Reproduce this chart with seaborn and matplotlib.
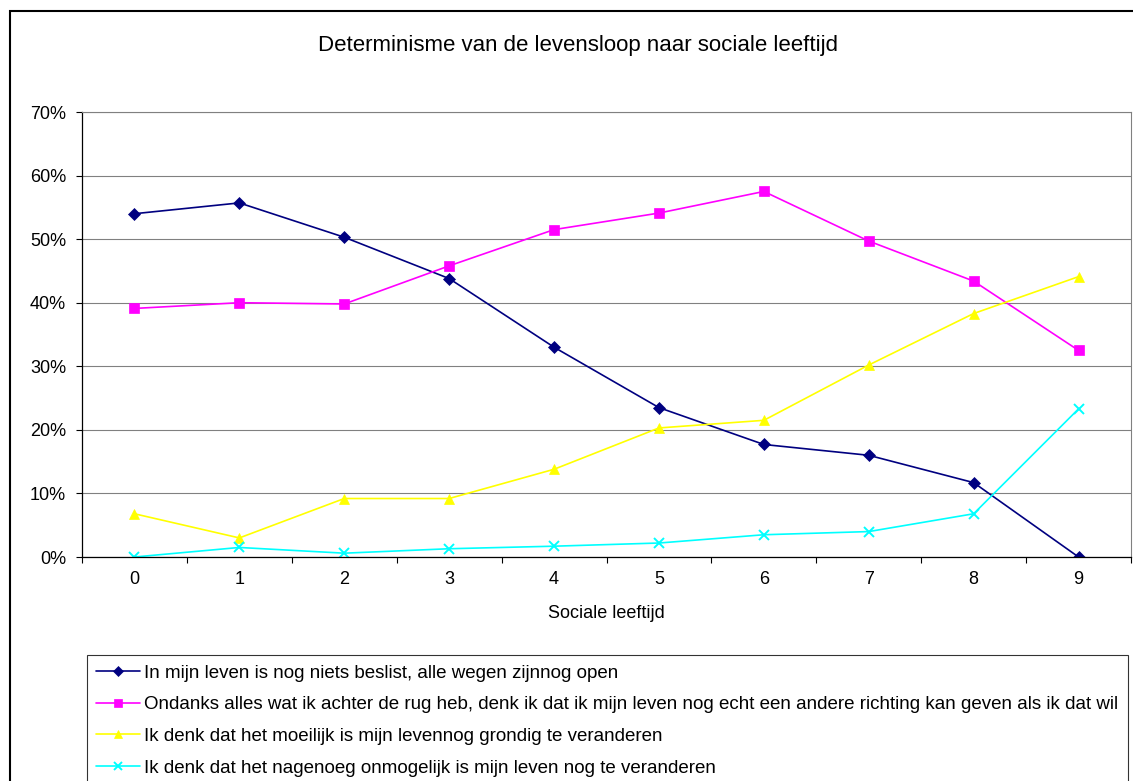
import numpy as np
import pandas as pd
import matplotlib
matplotlib.use("Agg")
import matplotlib.pyplot as plt
import seaborn as sns
from matplotlib.ticker import PercentFormatter, MultipleLocator, FixedLocator
from matplotlib.patches import Rectangle

# Data
leeftijd = [0, 1, 2, 3, 4, 5, 6, 7, 8, 9]
alles_open = [0.540, 0.557, 0.503, 0.438, 0.330, 0.235, 0.177, 0.160, 0.117, 0.000]
andere_richting = [0.391, 0.400, 0.398, 0.458, 0.515, 0.541, 0.575, 0.497, 0.434, 0.325]
moeilijk = [0.068, 0.030, 0.092, 0.092, 0.138, 0.203, 0.215, 0.302, 0.383, 0.441]
onmogelijk = [0.000, 0.015, 0.006, 0.013, 0.017, 0.022, 0.035, 0.040, 0.068, 0.233]

labels = [
    "In mijn leven is nog niets beslist, alle wegen zijnnog open",
    "Ondanks alles wat ik achter de rug heb, denk ik dat ik mijn leven nog echt een andere richting kan geven als ik dat wil",
    "Ik denk dat het moeilijk is mijn levennog grondig te veranderen",
    "Ik denk dat het nagenoeg onmogelijk is mijn leven nog te veranderen",
]

df = pd.DataFrame({
    "Leeftijd": leeftijd * 4,
    "Aandeel": alles_open + andere_richting + moeilijk + onmogelijk,
    "Reeks": [l for l in labels for _ in leeftijd],
})

colors = ["#000080", "#FF00FF", "#FFFF00", "#00FFFF"]
markers = ["D", "s", "^", "x"]
msizes = [6.5, 6.5, 7.5, 7.5]

sns.set_style("white")
plt.rcParams['font.family'] = ['Liberation Sans', 'DejaVu Sans']
for key in ["text.color", "axes.labelcolor", "xtick.color", "ytick.color"]:
    plt.rcParams[key] = "black"

W, H = 1133, 781
fig = plt.figure(figsize=(W / 100, H / 100), dpi=100)
ax = fig.add_axes([82 / W, 1 - 557 / H, (1131 - 82) / W, (557 - 112) / H])

for lab, col, mk, ms in zip(labels, colors, markers, msizes):
    sns.lineplot(data=df[df["Reeks"] == lab], x="Leeftijd", y="Aandeel",
                 color=col, marker=mk, markersize=ms, markeredgecolor=col,
                 markeredgewidth=1.4 if mk == "x" else 0.5,
                 linewidth=1.2, label=lab, errorbar=None, ax=ax)

ax.set_xlim(-0.5, 9.5)
ax.set_ylim(0, 0.7)
ax.yaxis.set_major_locator(MultipleLocator(0.1))
ax.yaxis.set_major_formatter(PercentFormatter(1.0, decimals=0))
ax.xaxis.set_major_locator(FixedLocator(leeftijd))
ax.xaxis.set_minor_locator(FixedLocator(np.arange(-0.5, 10, 1)))
ax.set_xticklabels([str(v) for v in leeftijd])

ax.yaxis.grid(True, color="#808080", linewidth=0.8)
ax.set_axisbelow(True)
for side in ["left", "bottom"]:
    ax.spines[side].set_color("black")
    ax.spines[side].set_linewidth(0.9)
for side in ["top", "right"]:
    ax.spines[side].set_color("#808080")
    ax.spines[side].set_linewidth(0.8)

ax.tick_params(axis="y", which="major", direction="out", length=4.5, width=0.8,
               pad=7, labelsize=13, left=True, color="black")
ax.tick_params(axis="x", which="major", length=0, pad=10, labelsize=13)
ax.tick_params(axis="x", which="minor", direction="out", length=4.5, width=0.8,
               bottom=True, color="black")

ax.set_xlabel("Sociale leeftijd", fontsize=13, labelpad=12)
ax.set_ylabel("")

fig.text(578 / W, 1 - 45 / H, "Determinisme van de levensloop naar sociale leeftijd",
         ha="center", va="center", fontsize=16)

leg = ax.legend(loc="upper left", bbox_to_anchor=(87 / W, 1 - 655 / H),
                bbox_transform=fig.transFigure, frameon=True, fancybox=False,
                edgecolor="black", fontsize=13.5, handlelength=2.3,
                handletextpad=0.25, borderpad=0.5, borderaxespad=0,
                labelspacing=0.78, markerscale=0.8)
leg.get_frame().set_linewidth(0.8)

# outer chart border (cropped on the right and bottom in the original)
fig.add_artist(Rectangle((10 / W, -0.05), 1.2, 1 - 11 / H + 0.05,
                         transform=fig.transFigure, fill=False,
                         edgecolor="black", linewidth=1.5))

fig.savefig("out.png", dpi=100)
